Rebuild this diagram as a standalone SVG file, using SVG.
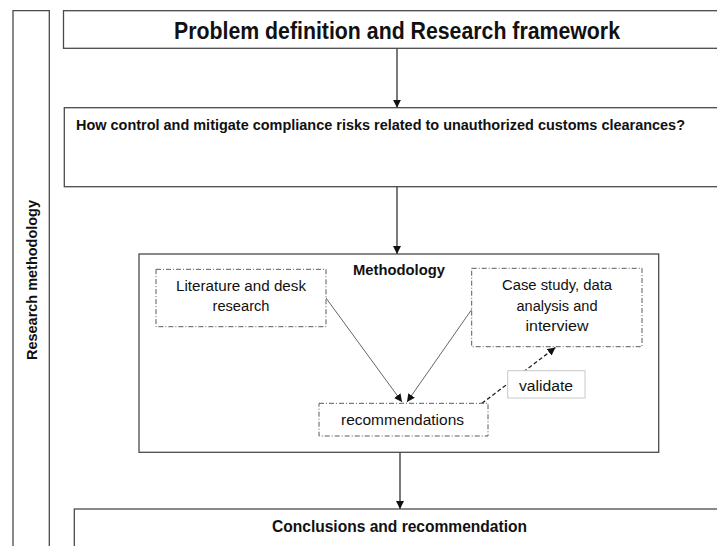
<svg xmlns="http://www.w3.org/2000/svg" width="717" height="546" viewBox="0 0 717 546">
  <style>
    .frame { fill: #ffffff; stroke: #4a4a4a; stroke-width: 1.3; }
    .dashdot { fill: #ffffff; stroke: #5a5a5a; stroke-width: 1; stroke-dasharray: 5 2 1 2; }
    .label-box { fill: #ffffff; stroke: #c8c8c8; stroke-width: 1; }
    .t { font-family: "Liberation Sans", Arial, sans-serif; fill: #111111; }
    .b { font-weight: bold; }
    .flow { stroke: #222222; stroke-width: 1.2; fill: none; }
    .thin { stroke: #555555; stroke-width: 0.9; fill: none; }
    .dashed { stroke: #222222; stroke-width: 1.3; fill: none; stroke-dasharray: 4 2.5; }
  </style>
  <defs>
    <marker id="arrow" viewBox="0 0 10 10" refX="10" refY="5" markerWidth="8" markerHeight="8" markerUnits="userSpaceOnUse" orient="auto">
      <path d="M0,0 L10,5 L0,10 z" fill="#111111"/>
    </marker>
  </defs>

  <rect width="717" height="546" fill="#ffffff"/>

  <!-- side band -->
  <g id="side-band">
    <path class="frame" d="M13,560 V10.7 H49.3 V560" fill="none"/>
    <text class="t b" transform="translate(36.5,280) rotate(-90)" text-anchor="middle" font-size="14" textLength="160" lengthAdjust="spacingAndGlyphs">Research methodology</text>
  </g>

  <!-- connectors -->
  <g id="connectors">
    <line class="flow" x1="397" y1="48.3" x2="397" y2="107.7" marker-end="url(#arrow)"/>
    <line class="flow" x1="397" y1="186.5" x2="397" y2="254" marker-end="url(#arrow)"/>
    <line class="flow" x1="400" y1="452.3" x2="400" y2="509" marker-end="url(#arrow)"/>
  </g>

  <g id="title">
    <rect class="frame" x="63.5" y="10.7" width="680" height="37.6"/>
    <text class="t b" x="397" y="39.3" text-anchor="middle" font-size="23" textLength="446" lengthAdjust="spacingAndGlyphs">Problem definition and Research framework</text>
  </g>

  <g id="question">
    <rect class="frame" x="64.3" y="107.7" width="680" height="79"/>
    <text class="t b" x="76" y="130" font-size="15" textLength="609" lengthAdjust="spacingAndGlyphs">How control and mitigate compliance risks related to unauthorized customs clearances?</text>
  </g>

  <g id="methodology">
    <rect class="frame" x="139" y="254" width="519.7" height="198.3"/>
    <text class="t b" x="399" y="275" text-anchor="middle" font-size="14" textLength="92" lengthAdjust="spacingAndGlyphs">Methodology</text>
  </g>

  <!-- inner connectors -->
  <g id="inner-connectors">
    <line class="thin" x1="326" y1="298" x2="402" y2="402" marker-end="url(#arrow)"/>
    <line class="thin" x1="472" y1="309" x2="407" y2="402" marker-end="url(#arrow)"/>
    <line class="dashed" x1="482" y1="403.3" x2="555.5" y2="347.5" marker-end="url(#arrow)"/>
  </g>

  <g id="literature">
    <rect class="dashdot" x="156" y="269.3" width="170" height="57.4"/>
    <text class="t" x="241" y="291" text-anchor="middle" font-size="15.5" textLength="130" lengthAdjust="spacingAndGlyphs">Literature and desk</text>
    <text class="t" x="241" y="310.5" text-anchor="middle" font-size="15.5" textLength="57" lengthAdjust="spacingAndGlyphs">research</text>
  </g>

  <g id="case-study">
    <rect class="dashdot" x="471.7" y="268.3" width="170.3" height="78.4"/>
    <text class="t" x="557" y="290" text-anchor="middle" font-size="15.5" textLength="110" lengthAdjust="spacingAndGlyphs">Case study, data</text>
    <text class="t" x="557" y="310.5" text-anchor="middle" font-size="15.5" textLength="81" lengthAdjust="spacingAndGlyphs">analysis and</text>
    <text class="t" x="557" y="331" text-anchor="middle" font-size="15.5" textLength="63" lengthAdjust="spacingAndGlyphs">interview</text>
  </g>

  <g id="recommendations">
    <rect class="dashdot" x="319" y="403.3" width="169" height="32.7"/>
    <text class="t" x="402.5" y="425" text-anchor="middle" font-size="15.5" textLength="123" lengthAdjust="spacingAndGlyphs">recommendations</text>
  </g>

  <g id="validate">
    <rect class="label-box" x="507.7" y="370.7" width="77.3" height="27.3"/>
    <text class="t" x="546" y="391" text-anchor="middle" font-size="15.5" textLength="54" lengthAdjust="spacingAndGlyphs">validate</text>
  </g>

  <g id="conclusions">
    <rect class="frame" x="74.3" y="509" width="680" height="60"/>
    <text class="t b" x="399.5" y="532" text-anchor="middle" font-size="16" textLength="255" lengthAdjust="spacingAndGlyphs">Conclusions and recommendation</text>
  </g>
</svg>
